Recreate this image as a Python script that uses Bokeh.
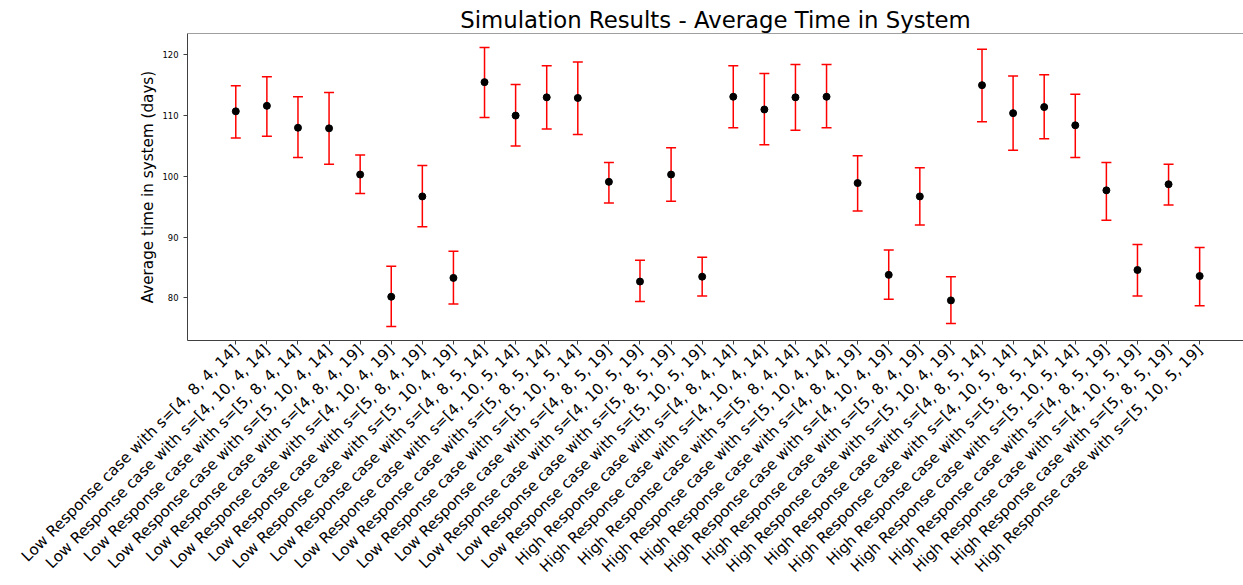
import math
from bokeh.plotting import figure
from bokeh.models import ColumnDataSource, Whisker, TeeHead, Range1d, FixedTicker, Span
from bokeh.embed import file_html
from bokeh.resources import INLINE

cases = ["Low Response"] * 16 + ["High Response"] * 16
s_values = [
    "[4, 8, 4, 14]", "[4, 10, 4, 14]", "[5, 8, 4, 14]", "[5, 10, 4, 14]",
    "[4, 8, 4, 19]", "[4, 10, 4, 19]", "[5, 8, 4, 19]", "[5, 10, 4, 19]",
    "[4, 8, 5, 14]", "[4, 10, 5, 14]", "[5, 8, 5, 14]", "[5, 10, 5, 14]",
    "[4, 8, 5, 19]", "[4, 10, 5, 19]", "[5, 8, 5, 19]", "[5, 10, 5, 19]",
] * 2
labels = [f"{c} case with s={s}" for c, s in zip(cases, s_values)]

means = [110.7, 111.6, 108.0, 107.9, 100.3, 80.2, 96.7, 83.3,
         115.5, 110.0, 113.0, 112.9, 99.1, 82.7, 100.3, 83.5,
         113.1, 111.0, 113.0, 113.1, 98.9, 83.8, 96.7, 79.6,
         115.0, 110.4, 111.4, 108.4, 97.7, 84.6, 98.7, 83.6]
upper = [114.9, 116.4, 113.1, 113.8, 103.5, 85.2, 101.8, 87.7,
         121.2, 115.1, 118.2, 118.8, 102.3, 86.2, 104.7, 86.7,
         118.2, 116.9, 118.4, 118.4, 103.4, 87.9, 101.4, 83.5,
         120.9, 116.5, 116.7, 113.5, 102.3, 88.8, 102.0, 88.3]
lower = [106.3, 106.6, 103.1, 102.0, 97.2, 75.3, 91.7, 79.0,
         109.7, 105.0, 107.8, 106.9, 95.6, 79.4, 95.9, 80.3,
         108.0, 105.2, 107.6, 108.0, 94.3, 79.8, 92.0, 75.8,
         109.0, 104.3, 106.2, 103.1, 92.8, 80.3, 95.3, 78.7]
y_ticks = [80, 90, 100, 110, 120]

idx = list(range(len(labels)))
source = ColumnDataSource(dict(x=idx, label=labels, mean=means, upper=upper, lower=lower))

FONT = "DejaVu Sans"

p = figure(
    width=1243, height=585,
    output_backend="svg", toolbar_location=None,
    x_range=Range1d(-1.553, 32.41), y_range=Range1d(73.0, 123.5),
    min_border_left=187, min_border_right=0, min_border_top=33,
    title="Simulation Results - Average Time in System",
)
p.title.text_font = FONT
p.title.text_font_size = "22.8px"
p.title.text_font_style = "normal"
p.title.align = "center"
p.title.text_color = "black"
p.title.standoff = 2
p.title.offset = 0

p.outline_line_color = None
p.background_fill_color = "white"
p.border_fill_color = "white"
p.xgrid.visible = False
p.ygrid.visible = False

p.add_layout(Span(location=123.5, dimension="width", line_color="#404040", line_width=1))

# x axis
p.xaxis.ticker = FixedTicker(ticks=idx)
p.xaxis.major_label_overrides = {i: l for i, l in zip(idx, labels)}
p.xaxis.major_label_orientation = math.pi / 4
p.xaxis.major_label_text_font = FONT
p.xaxis.major_label_text_font_size = "15.2px"
p.xaxis.major_label_text_line_height = 0.75
p.xaxis.major_label_text_color = "black"
p.xaxis.major_label_standoff = 3

# y axis
p.yaxis.ticker = FixedTicker(ticks=y_ticks)
p.yaxis.axis_label = "Average time in system (days)"
p.yaxis.axis_label_text_font = FONT
p.yaxis.axis_label_text_font_size = "15.2px"
p.yaxis.axis_label_text_font_style = "normal"
p.yaxis.axis_label_text_color = "black"
p.yaxis.axis_label_standoff = 3
p.yaxis.major_label_text_font = FONT
p.yaxis.major_label_text_font_size = "8.4px"
p.yaxis.major_label_text_color = "black"
p.yaxis.major_label_standoff = 5

for ax in (p.xaxis, p.yaxis):
    ax.axis_line_color = "#404040"
    ax.axis_line_width = 1
    ax.major_tick_line_color = "#404040"
    ax.major_tick_out = 4
    ax.major_tick_in = 0
    ax.minor_tick_line_color = None

whisker = Whisker(
    base="x", upper="upper", lower="lower", source=source,
    line_color="red", line_width=1.5,
    upper_head=TeeHead(size=10, line_color="red", line_width=1.5),
    lower_head=TeeHead(size=10, line_color="red", line_width=1.5),
)
p.add_layout(whisker)

p.scatter("x", "mean", source=source, size=7, color="black")

open("out.html", "w").write(file_html(p, INLINE))
